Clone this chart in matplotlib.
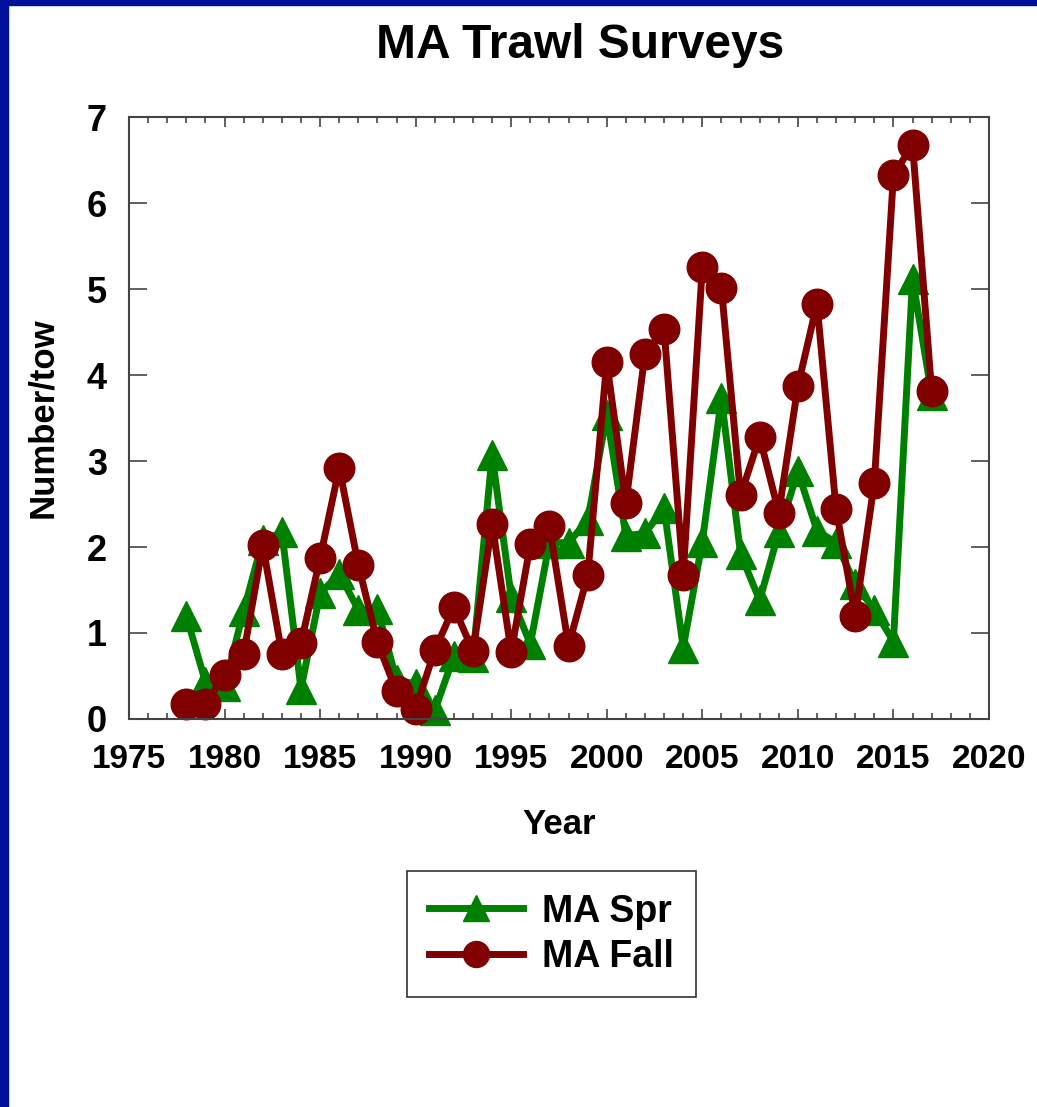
import numpy as np
import matplotlib.pyplot as plt
from matplotlib.patches import Rectangle
from matplotlib.ticker import MultipleLocator

plt.rcParams['font.family'] = ['Liberation Sans', 'DejaVu Sans']
plt.rcParams['font.weight'] = 'bold'

years = np.arange(1978, 2018)

# spring survey, number per tow
ma_spr = [1.20, 0.43, 0.38, 1.26, 2.08, 2.17, 0.35, 1.46, 1.69, 1.27,
          1.28, 0.45, 0.41, 0.10, 0.73, 0.72, 3.07, 1.42, 0.87, 2.05,
          2.05, 2.31, 3.54, 2.13, 2.16, 2.45, 0.83, 2.06, 3.73, 1.92,
          1.38, 2.17, 2.88, 2.19, 2.05, 1.57, 1.27, 0.90, 5.12, 3.77]

# fall survey, number per tow
ma_fall = [0.17, 0.18, 0.51, 0.76, 2.02, 0.76, 0.88, 1.87, 2.92, 1.79,
           0.89, 0.32, 0.12, 0.80, 1.30, 0.79, 2.27, 0.78, 2.03, 2.24,
           0.85, 1.67, 4.15, 2.51, 4.25, 4.53, 1.68, 5.26, 5.01, 2.60,
           3.28, 2.40, 3.87, 4.83, 2.44, 1.20, 2.75, 6.32, 6.68, 3.81]

fig = plt.figure(figsize=(10.37, 11.07), dpi=100)

# blue slide border on the left and top
fig.patches.append(Rectangle((0, 0), 8 / 1037, 1, transform=fig.transFigure,
                             color='#00109a', zorder=0))
fig.patches.append(Rectangle((0, 1 - 5 / 1107), 1, 5 / 1107, transform=fig.transFigure,
                             color='#00109a', zorder=0))

ax = fig.add_axes([0.1244, 0.3505, 0.8293, 0.5438])

ax.plot(years, ma_spr, color='#008000', lw=5, marker='^', markersize=22,
        label='MA Spr', clip_on=False)
ax.plot(years, ma_fall, color='#800000', lw=5, marker='o', markersize=22,
        label='MA Fall', clip_on=False)

ax.set_xlim(1975, 2020)
ax.set_ylim(0, 7)
ax.xaxis.set_major_locator(MultipleLocator(5))
ax.xaxis.set_minor_locator(MultipleLocator(1))
ax.yaxis.set_major_locator(MultipleLocator(1))

ax.tick_params(axis='x', which='major', direction='in', top=True, length=7,
               width=1.2, color='#444444', labelsize=24, pad=18)
ax.tick_params(axis='x', which='minor', direction='in', top=True, length=4,
               width=1.2, color='#444444')
ax.tick_params(axis='y', which='major', direction='in', right=True, length=13,
               width=1.2, color='#444444', labelsize=26, pad=16)
for s in ax.spines.values():
    s.set_color('#444444')
    s.set_linewidth(1.5)

ax.set_xlabel('Year', fontsize=25, fontweight='bold', labelpad=24)
ax.set_ylabel('Number/tow', fontsize=25, fontweight='bold', labelpad=20)
fig.text(0.559, 0.959, 'MA Trawl Surveys', fontsize=34.5, fontweight='bold',
         ha='center', va='center')

leg = fig.legend(loc='center', bbox_to_anchor=(0.532, 0.156), fontsize=27,
                 fancybox=False, edgecolor='black', handlelength=2.5,
                 handletextpad=0.5, markerscale=0.85, borderpad=0.6,
                 labelspacing=0.25)
leg.get_frame().set_linewidth(1.2)

fig.savefig('out.png', dpi=100)
